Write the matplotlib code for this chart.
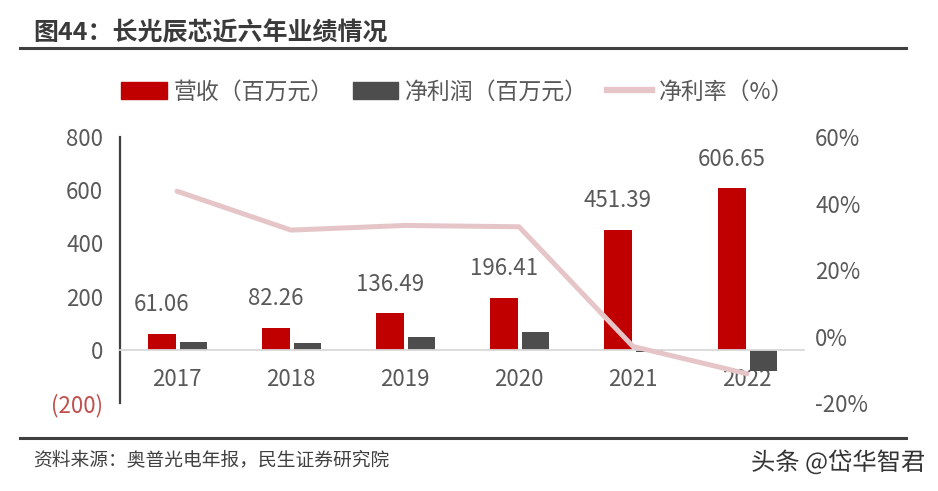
import numpy as np
import matplotlib.pyplot as plt
from matplotlib.lines import Line2D
from matplotlib.patches import Patch
import matplotlib.patheffects as pe

plt.rcParams['font.family'] = ['Noto Sans CJK SC', 'DejaVu Sans']

# data
years = ['2017', '2018', '2019', '2020', '2021', '2022']
revenue = [61.06, 82.26, 136.49, 196.41, 451.39, 606.65]
net_profit = [28, 27, 48, 67, -8, -79]
net_margin = [0.437, 0.320, 0.334, 0.330, -0.030, -0.112]

left_ticks = [-200, 0, 200, 400, 600, 800]
right_ticks = [-0.2, 0.0, 0.2, 0.4, 0.6]

RED = '#c00000'
GRAY = '#4d4d4d'
PINK = '#e6c5c8'
TXT = '#595959'

W, H = 938, 491
fig = plt.figure(figsize=(W / 100, H / 100), dpi=100)
fig.patch.set_facecolor('white')

# plot area in pixels: x 120..804, y 137..403
ax = fig.add_axes([120 / W, 1 - 403 / H, 684 / W, 266 / H])
x = np.arange(len(years))
bw = 0.245
ax.bar(x - 0.135, revenue, bw, color=RED, zorder=2)
ax.bar(x + 0.145, net_profit, bw, color=GRAY, zorder=2)

ax.set_xlim(-0.5, len(years) - 0.5)
ax.set_ylim(-200, 800)

# revenue labels
for xi, v in zip(x, revenue):
    ax.annotate(f'{v:.2f}', (xi - 0.135, v), xytext=(0, 21), textcoords='offset points',
                ha='center', va='center', fontsize=16, color=TXT)

# axes styling
for s in ['top', 'right']:
    ax.spines[s].set_visible(False)
ax.spines['left'].set_color('#404040')
ax.spines['left'].set_linewidth(1.6)
ax.spines['bottom'].set_position(('data', 0))
ax.spines['bottom'].set_color('#d9d9d9')
ax.spines['bottom'].set_linewidth(1.3)

ax.set_xticks(x)
ax.set_xticklabels(years, fontsize=16, color=TXT)
ax.tick_params(axis='x', length=0, pad=13)

ax.set_yticks(left_ticks)
labels = [f'({abs(t)})' if t < 0 else str(t) for t in left_ticks]
ax.set_yticklabels(labels, fontsize=16)
for lab, t in zip(ax.get_yticklabels(), left_ticks):
    lab.set_color('#c0504d' if t < 0 else TXT)
ax.tick_params(axis='y', length=0, pad=12)

# net margin on the right axis
ax2 = ax.twinx()
ax2.plot(x, net_margin, color=PINK, lw=3.6, solid_capstyle='round', zorder=3)
ax2.set_ylim(-0.2, 0.6)
ax2.set_yticks(right_ticks)
ax2.set_yticklabels([f'{int(round(t * 100))}%' for t in right_ticks], fontsize=16, color=TXT)
ax2.tick_params(axis='y', length=0, pad=8)
for s in ax2.spines.values():
    s.set_visible(False)

# legend
handles = [Patch(facecolor=RED, edgecolor=RED),
           Patch(facecolor=GRAY, edgecolor=GRAY),
           Line2D([0], [0], color=PINK, lw=4.5)]
leg = fig.legend(handles, ['营收（百万元）', '净利润（百万元）', '净利率（%）'],
                 loc='center', bbox_to_anchor=(458 / W, 1 - 92 / H), ncol=3,
                 frameon=False, fontsize=16.5, handlelength=2.0, handleheight=0.8,
                 handletextpad=0.3, columnspacing=0.8)
for t in leg.get_texts():
    t.set_color(TXT)

# title, rules and footer
fig.text(33 / W, 1 - 33 / H, '图44：长光辰芯近六年业绩情况', fontsize=18, fontweight='bold',
         color='#3a3a3a', ha='left', va='center')
fig.add_artist(Line2D([20 / W, 906 / W], [1 - 48 / H, 1 - 48 / H], color='#404040', lw=2.2))
fig.add_artist(Line2D([20 / W, 906 / W], [1 - 438 / H, 1 - 438 / H], color='#404040', lw=2.2))
fig.text(33 / W, 1 - 460 / H, '资料来源：奥普光电年报，民生证券研究院', fontsize=13.5,
         color='#404040', ha='left', va='center')
fig.text(925 / W, 1 - 463 / H, '头条 @岱华智君', fontsize=17.5, color='#333333',
         ha='right', va='center',
         path_effects=[pe.withStroke(linewidth=2, foreground='white')])

fig.savefig('out.png', dpi=100)
